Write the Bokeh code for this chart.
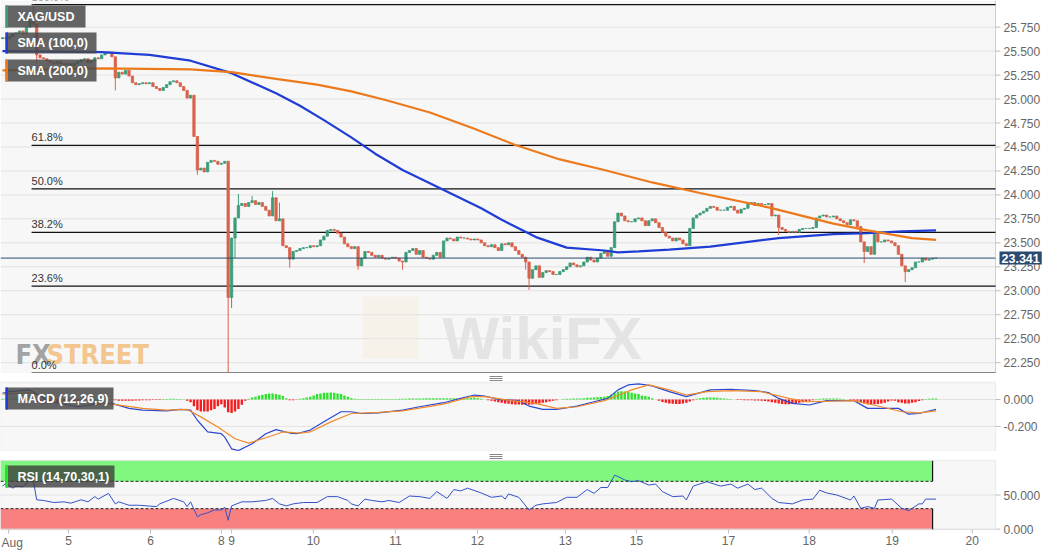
import numpy as np
from bokeh.plotting import figure
from bokeh.layouts import column
from bokeh.models import Range1d, Label, BoxAnnotation
from bokeh.embed import file_html
from bokeh.resources import INLINE

# ---------------- data (hourly XAG/USD) ----------------
first_open = 25.63
close = [
    25.64, 25.63, 25.65, 25.68, 25.69, 25.71, 25.68, 25.75, 25.82, 25.78,
    25.46, 25.43, 25.42, 25.40, 25.38, 25.37, 25.39, 25.37, 25.36, 25.37,
    25.35, 25.37, 25.39, 25.41, 25.42, 25.38, 25.40, 25.43, 25.42, 25.46,
    25.48, 25.49, 25.44, 25.22, 25.28, 25.26, 25.30, 25.24, 25.17, 25.15,
    25.16, 25.17, 25.16, 25.17, 25.13, 25.11, 25.09, 25.12, 25.15, 25.18,
    25.19, 25.17, 25.13, 25.09, 25.01, 25.04, 24.61, 24.26, 24.28, 24.24,
    24.34, 24.36, 24.35, 24.32, 24.33, 24.35, 22.93, 23.55, 23.76, 23.89,
    23.91, 23.88, 23.92, 23.94, 23.90, 23.92, 23.88, 23.84, 23.78, 23.97,
    23.73, 23.75, 23.47, 23.45, 23.33, 23.41, 23.42, 23.44, 23.45, 23.45,
    23.47, 23.46, 23.47, 23.53, 23.57, 23.63, 23.64, 23.63, 23.60, 23.56,
    23.49, 23.46, 23.44, 23.46, 23.26, 23.34, 23.41, 23.40, 23.37, 23.35,
    23.37, 23.34, 23.33, 23.34, 23.35, 23.34, 23.31, 23.30, 23.40, 23.42,
    23.44, 23.38, 23.42, 23.35, 23.34, 23.33, 23.37, 23.40, 23.35, 23.52,
    23.55, 23.54, 23.52, 23.56, 23.55, 23.55, 23.54, 23.53, 23.54, 23.53,
    23.50, 23.47, 23.46, 23.48, 23.45, 23.42, 23.49, 23.48, 23.50, 23.46,
    23.42, 23.38, 23.35, 23.30, 23.13, 23.22, 23.26, 23.14, 23.19, 23.21,
    23.20, 23.17, 23.17, 23.20, 23.22, 23.25, 23.29, 23.27, 23.25, 23.26,
    23.30, 23.35, 23.32, 23.30, 23.34, 23.39, 23.42, 23.36, 23.45, 23.72,
    23.81, 23.78, 23.73, 23.72, 23.72, 23.75, 23.76, 23.73, 23.68, 23.73,
    23.75, 23.71, 23.66, 23.61, 23.57, 23.55, 23.52, 23.55, 23.53, 23.49,
    23.47, 23.65, 23.76, 23.79, 23.81, 23.83, 23.86, 23.88, 23.87, 23.84,
    23.84, 23.84, 23.87, 23.88, 23.84, 23.81, 23.85, 23.86, 23.91, 23.92,
    23.89, 23.91, 23.90, 23.90, 23.91, 23.78, 23.79, 23.66, 23.64, 23.62,
    23.61, 23.62, 23.61, 23.64, 23.65, 23.65, 23.65, 23.66, 23.76, 23.78,
    23.79, 23.77, 23.77, 23.78, 23.75, 23.73, 23.71, 23.69, 23.74, 23.73,
    23.67, 23.51, 23.41, 23.46, 23.38, 23.59, 23.51, 23.51, 23.53, 23.52,
    23.50, 23.47, 23.38, 23.26, 23.20, 23.22, 23.24, 23.30, 23.30, 23.34,
    23.32, 23.33, 23.34, 23.341,
]
wick_high = {9: 25.99, 69: 24.01, 73: 23.99, 79: 24.04, 81: 23.92, 255: 23.63}
wick_low = {10: 25.38, 33: 25.09, 57: 24.21, 66: 22.14, 67: 22.82, 68: 23.34,
            84: 23.24, 104: 23.22, 117: 23.22, 153: 23.22, 154: 23.01,
            227: 23.58, 252: 23.29, 264: 23.09}
last_price = 23.341

sma100_idx = [0, 29, 43, 55, 67, 80, 87, 94, 102, 109, 117, 128, 140, 146, 156,
              165, 176, 180, 186, 195, 207, 227, 243, 253, 263, 273]
sma100 = [25.50, 25.49, 25.46, 25.40, 25.27, 25.06, 24.93, 24.78, 24.60, 24.43,
          24.26, 24.07, 23.86, 23.74, 23.56, 23.45, 23.42, 23.40, 23.41, 23.43,
          23.46, 23.55, 23.59, 23.60, 23.62, 23.63]
sma200_idx = [0, 29, 55, 67, 80, 92, 102, 112, 125, 138, 150, 163, 176, 190, 204,
              224, 243, 253, 266, 273]
sma200 = [25.30, 25.32, 25.31, 25.28, 25.21, 25.15, 25.08, 24.99, 24.86, 24.69,
          24.52, 24.37, 24.26, 24.13, 24.02, 23.87, 23.70, 23.63, 23.55, 23.53]

fib_high, fib_low = 25.986, 22.14
fib_ratios = [1.0, 0.618, 0.5, 0.382, 0.236, 0.0]
fib_labels = ["100.0%", "61.8%", "50.0%", "38.2%", "23.6%", "0.0%"]
fib_start = 8.5

macd_idx = [0, 2, 8, 14, 22, 29, 32, 37, 41, 48, 52, 55, 57, 60, 64, 65, 67, 69, 73, 77,
            80, 84, 86, 90, 94, 99, 102, 105, 110, 117, 122, 129, 134, 138, 141, 145, 151,
            154, 158, 162, 168, 173, 177, 180, 183, 186, 190, 195, 200, 207, 213, 220, 224,
            227, 231, 236, 241, 249, 253, 258, 262, 265, 268, 273]
macd = [0.046, 0.058, 0.071, -0.017, -0.054, -0.029, -0.029, -0.066, -0.079, -0.084,
        -0.074, -0.079, -0.154, -0.241, -0.254, -0.279, -0.366, -0.379, -0.329, -0.254,
        -0.224, -0.249, -0.254, -0.227, -0.166, -0.091, -0.091, -0.104, -0.099, -0.079,
        -0.054, -0.024, 0.008, 0.033, 0.026, 0.001, -0.009, -0.049, -0.074, -0.074,
        -0.049, -0.017, 0.008, 0.071, 0.108, 0.116, 0.101, 0.058, 0.021, 0.071,
        0.076, 0.066, 0.051, 0.008, -0.029, -0.041, -0.009, -0.009, -0.066, -0.066,
        -0.066, -0.109, -0.104, -0.074]
signal_idx = [0, 8, 17, 32, 41, 48, 54, 58, 63, 68, 72, 77, 82, 87, 90, 96, 102, 110, 117,
              129, 137, 141, 149, 156, 162, 168, 176, 181, 184, 189, 195, 200, 206, 213,
              222, 230, 235, 249, 257, 263, 268, 273]
signal = [0.040, 0.050, -0.010, -0.034, -0.066, -0.079, -0.074, -0.129, -0.204, -0.291,
          -0.324, -0.284, -0.241, -0.249, -0.241, -0.166, -0.104, -0.096, -0.084, -0.034,
          0.021, 0.021, -0.009, -0.029, -0.066, -0.054, -0.009, 0.041, 0.071, 0.108,
          0.071, 0.033, 0.058, 0.066, 0.058, 0.008, -0.017, -0.009, -0.054, -0.091,
          -0.099, -0.084]
hist = (
    [0.005, 0.005, 0.005, 0.01, 0.01, 0.01, 0.008, 0.005, 0.0, -0.01]
    + [-0.02, -0.025, -0.03, -0.03, -0.028, -0.025, -0.022, -0.02, -0.02, -0.018, -0.015]
    + [-0.012, -0.01, -0.006, -0.004, -0.002, 0.0, 0.003, 0.004, 0.005, 0.005, 0.004, 0.003]
    + [-0.005, -0.01, -0.01, -0.01, -0.01, -0.01, -0.008, -0.008, -0.006, -0.005, -0.005,
       -0.004, -0.003, -0.003]
    + [0.003, 0.004, 0.005, 0.005, 0.004, 0.003, 0.002]
    + [-0.01, -0.02, -0.05, -0.08, -0.09, -0.09, -0.09, -0.08, -0.07, -0.05, -0.035, -0.06,
       -0.095, -0.1, -0.09, -0.07, -0.04, -0.01]
    + [0.005, 0.015, 0.02, 0.03, 0.035, 0.04, 0.045, 0.045, 0.04, 0.035, 0.025, 0.01]
    + [-0.005, -0.005, -0.002]
    + [0.005, 0.01, 0.015, 0.02, 0.03, 0.04, 0.045, 0.05, 0.05, 0.052, 0.05, 0.045, 0.04,
       0.03, 0.02, 0.01, 0.005]
    + [0.003, 0.003, 0.003, 0.003, 0.003, 0.003, 0.003, 0.003, 0.003, 0.003, 0.003, 0.003]
    + [0.005, 0.006, 0.006, 0.007, 0.007, 0.008, 0.008, 0.008, 0.009, 0.009, 0.009, 0.01,
       0.01, 0.01, 0.01, 0.009, 0.009, 0.008, 0.008]
    + [0.008, 0.01, 0.012, 0.012, 0.01, 0.005]
    + [0.0, -0.005, -0.01, -0.015, -0.02, -0.025, -0.03, -0.032, -0.035, -0.037, -0.038,
       -0.04, -0.04, -0.04, -0.038, -0.035, -0.03, -0.025, -0.02, -0.015, -0.01, -0.005, 0.0]
    + [0.003, 0.005, 0.006, 0.007, 0.008, 0.008, 0.01, 0.012, 0.013, 0.015, 0.016, 0.018]
    + [0.02, 0.025, 0.035, 0.05, 0.06, 0.062, 0.06, 0.055, 0.05, 0.045, 0.04, 0.03, 0.025,
       0.02, 0.01]
    + [0.0, -0.01, -0.018, -0.025, -0.03, -0.032, -0.033, -0.033, -0.03, -0.025, -0.015, -0.005]
    + [0.005, 0.01, 0.012, 0.015, 0.015, 0.015, 0.013, 0.01, 0.008, 0.005, 0.003, 0.0]
    + [-0.003, -0.004, -0.005, -0.006, -0.006, -0.007, -0.008, -0.01]
    + [-0.012, -0.015, -0.02, -0.025, -0.03, -0.033, -0.035, -0.035, -0.033, -0.03, -0.025,
       -0.02, -0.015, -0.01, -0.005]
    + [0.003, 0.005, 0.007, 0.008, 0.008, 0.008, 0.007, 0.005, 0.003, 0.0, -0.003]
    + [-0.005, -0.01, -0.02, -0.03, -0.035, -0.038, -0.035, -0.033, -0.03, -0.025, -0.015,
       -0.008, -0.01, -0.02, -0.025, -0.03, -0.03, -0.025, -0.02, -0.012, -0.005, 0.003,
       0.006, 0.008, 0.008]
)

rsi_idx = [0, 1, 3, 4, 6, 7, 8, 9, 10, 12, 15, 18, 20, 23, 25, 27, 28, 31, 33, 34,
           37, 40, 45, 46, 50, 53, 54, 55, 57, 58, 60, 62, 64, 65, 66, 67, 70, 73, 77, 79,
           81, 83, 85, 88, 92, 95, 98, 101, 102, 104, 106, 108, 111, 113, 116, 119, 122,
           125, 127, 130, 132, 134, 136, 140, 143, 146, 147, 148, 151, 154, 156, 158, 162,
           165, 168, 171, 173, 175, 177, 179, 180, 182, 184, 186, 189, 191, 193, 196, 199,
           200, 202, 206, 210, 213, 215, 218, 220, 222, 225, 227, 231, 234, 237, 239, 241,
           244, 248, 249, 251, 253, 255, 256, 260, 263, 265, 268, 269, 270, 273]
rsi = [63, 67, 60, 63, 62, 67, 73, 72, 43, 42, 39, 40, 38, 43, 40, 47.6, 44, 52.4, 37, 40,
       35, 35, 33, 37, 45, 40, 33, 40, 18, 21, 24, 28, 28, 32, 13, 34, 40, 40, 42, 45,
       37, 34, 37, 39, 39, 47.6, 47.6, 42, 37, 34, 44, 42, 40, 42, 39, 48.5, 47.6, 45, 55,
       45, 58, 56, 60, 53, 46.6, 48.5, 44, 51.5, 46.6, 28, 35, 37, 39, 46.6, 46.6, 58,
       52.4, 61, 61, 79, 77, 72, 69.5, 71, 64.6, 66, 55, 47.6, 48.5, 42.7, 63, 69.5, 63,
       66, 60, 66, 58, 60, 45, 39, 37, 42.7, 44, 57, 53, 50, 42.7, 48.5, 30.5, 33, 30.5,
       42.7, 44, 30.5, 27, 37, 37, 44, 44]
rsi_upper, rsi_lower = 70, 30
rsi_band_end = 272

xtick_pos = [1.8, 19.3, 43.3, 64.0, 67.0, 90.9, 114.9, 138.9, 164.6, 185.4, 212.3,
             235.9, 260.2, 283.6]
xtick_labels = ["Aug", "5", "6", "8", "9", "10", "11", "12", "13", "15", "17", "18",
                "19", "20"]
price_ticks = [22.25, 22.5, 22.75, 23.0, 23.25, 23.5, 23.75, 24.0, 24.25, 24.5, 24.75,
               25.0, 25.25, 25.5, 25.75]
macd_ticks = [-0.2, 0.0]
rsi_ticks = [0, 50]

# ---------------- styling ----------------
FONT = "Liberation Sans"
COND = "DejaVu Sans Condensed, Roboto Condensed, Roboto, sans-serif"
UP, DOWN = "#3c9c78", "#d9624b"
BLUE, ORANGE = "#1f3dd4", "#ec7a1c"
NAVY = "#2b4a70"
FRAME_W = 995          # px of the plotting area (the price scale strip sits to its right)
FIG_W = 1052
X0, X1 = -0.58, 290.4  # x extent of the plotting area (candle index units)
PX = (X1 - X0) / FRAME_W
XM = X0 + FIG_W * PX   # every panel's frame also covers the price-scale strip

P_TOP, P_BOT = 26.028, 22.137          # main panel (373 px)
M_TOP, M_BOT = 0.126, -0.386           # MACD panel (69 px)
R_TOP, R_BOT = 100.5, -0.5             # RSI panel (69 px)
MV = (M_TOP - M_BOT) / 69.0            # MACD units per px
RV = (R_TOP - R_BOT) / 69.0            # RSI units per px
GAP = 9                                # px between panels
AXIS_H = 22                            # px for the date labels


def mx(px):
    return X0 + px * PX


def my(py):
    return P_TOP - py * (P_TOP - P_BOT) / 373.0


def mv(py):
    return M_TOP - (py - 382.0) * MV


def rv(py):
    return R_TOP - (py - 460.0) * RV


def make_panel(height, y0, y1, bg_bottom=None, bg_top=None):
    f = figure(width=FIG_W, height=height, x_range=Range1d(X0, XM),
               y_range=Range1d(y0, y1), output_backend="svg", toolbar_location=None,
               x_axis_location=None, y_axis_location=None, min_border=0,
               background_fill_color="white", border_fill_color="white",
               outline_line_color=None)
    for g in f.grid:
        g.visible = False
    f.add_layout(BoxAnnotation(right=X1, bottom=bg_bottom, top=bg_top,
                               fill_color="#f7f7f7", fill_alpha=1, line_color=None,
                               level="underlay"))
    return f


def price_scale(f, ticks, y0, y1, labels, grid=True, outline=False):
    if grid:
        f.segment(x0=X0, x1=X1, y0=ticks, y1=ticks, line_color="#e2e2e2", line_width=1)
    if outline:
        f.add_layout(BoxAnnotation(left=X0, right=X1, top=y1, bottom=y0, fill_alpha=0,
                                   line_color="#d2d2d2", line_width=1.3))
    else:
        f.segment(x0=[X1], x1=[X1], y0=[y0], y1=[y1], line_color="#cfcfcf", line_width=1)
    f.segment(x0=X1, x1=X1 + 5 * PX, y0=ticks, y1=ticks, line_color="#bdbdbd",
              line_width=1)
    for t, lab in zip(ticks, labels):
        f.add_layout(Label(x=X1, x_offset=8, y=t, text=lab, text_baseline="middle",
                           text_color="#666666", text_font=FONT, text_font_size="12px"))


def legend_box(f, x0, x1, top, bottom, ymid, bar_color, text, bg="#4a4a4a", alpha=0.85):
    f.add_layout(BoxAnnotation(left=mx(x0), right=mx(x1), top=top, bottom=bottom,
                               fill_color=bg, fill_alpha=alpha, line_color=None))
    f.add_layout(BoxAnnotation(left=mx(x0), right=mx(x0 + 2.5), top=top, bottom=bottom,
                               fill_color=bar_color, fill_alpha=1, line_color=None))
    f.add_layout(Label(x=mx(x0 + 12), y=ymid, text=text, text_baseline="middle",
                       text_color="white", text_font=FONT, text_font_size="12.5px",
                       text_font_style="bold"))


def grip(f, y_top, per_px):
    # small "drag handle" drawn in the gap above a sub-panel
    for k in (6, 4, 2):
        f.add_layout(BoxAnnotation(left=mx(489), right=mx(502),
                                   top=y_top + (k + 0.5) * per_px,
                                   bottom=y_top + (k - 0.5) * per_px,
                                   fill_color="#8a8a8a", fill_alpha=1, line_color=None))


# ---------------- main price panel ----------------
n = len(close)
idx = np.arange(n)
closes = np.array(close, dtype=float)
opens = np.array([first_open] + close[:-1], dtype=float)
highs = np.maximum(opens, closes)
lows = np.minimum(opens, closes)
for k, v in wick_high.items():
    highs[k] = max(highs[k], v)
for k, v in wick_low.items():
    lows[k] = min(lows[k], v)
colors = [UP if c >= o else DOWN for o, c in zip(opens, closes)]

p = make_panel(373, P_BOT, P_TOP)
price_scale(p, price_ticks, P_BOT, P_TOP, [f"{t:.3f}" for t in price_ticks])

# watermarks
p.add_layout(BoxAnnotation(left=mx(362), right=mx(418), top=my(296), bottom=my(358),
                           fill_color="#f6ebd6", fill_alpha=0.45, line_color=None,
                           level="underlay"))
p.add_layout(Label(x=mx(442), y=my(338), text="WikiFX", text_color="#dcdcdc",
                   text_alpha=0.7, text_font=FONT, text_font_size="60px",
                   text_font_style="bold", text_baseline="alphabetic", level="underlay"))
p.add_layout(Label(x=mx(15), y=my(354), text="FX", text_color="#a3a3a3",
                   text_font=COND, text_font_size="27px", text_font_style="bold",
                   text_baseline="alphabetic"))
p.add_layout(Label(x=mx(46), y=my(354), text="STREET", text_color="#f3c68f",
                   text_font=COND, text_font_size="27px", text_font_style="bold",
                   text_baseline="alphabetic"))

# fibonacci levels
fib_prices = [fib_low + r * (fib_high - fib_low) for r in fib_ratios]
p.segment(x0=fib_start, x1=X1, y0=fib_prices, y1=fib_prices, line_color="#111111",
          line_width=1.2)
for lvl, lab in zip(fib_prices, fib_labels):
    p.add_layout(Label(x=fib_start, y=lvl, y_offset=2, text=lab, text_baseline="bottom",
                       text_color="#333333", text_font=FONT, text_font_size="11px"))

# candles
p.segment(x0=idx, x1=idx, y0=lows, y1=highs, line_color=colors, line_width=1)
p.vbar(x=idx, width=0.68, top=np.maximum(opens, closes), bottom=np.minimum(opens, closes),
       fill_color=colors, line_color=colors, line_width=0.8)

# moving averages
p.line(sma100_idx, sma100, line_color=BLUE, line_width=2.2)
p.line(sma200_idx, sma200, line_color=ORANGE, line_width=2.2)

# current price line and tag
p.segment(x0=[X0], x1=[X1], y0=[last_price], y1=[last_price], line_color=NAVY,
          line_width=1)
p.add_layout(Label(x=X1, x_offset=4, y=last_price, text=f"{last_price:.3f}",
                   text_baseline="middle", text_color="white", text_font=FONT,
                   text_font_size="12.5px", text_font_style="bold",
                   background_fill_color=NAVY, padding=2))

legend_box(p, 5, 85, my(5), my(27), my(16), UP, "XAG/USD")
legend_box(p, 5, 96, my(32), my(53), my(42.5), BLUE, "SMA (100,0)")
legend_box(p, 5, 96, my(59), my(81), my(70), ORANGE, "SMA (200,0)")

# ---------------- MACD panel ----------------
m = make_panel(69 + GAP, M_BOT, M_TOP + GAP * MV, bg_bottom=M_BOT, bg_top=M_TOP)
price_scale(m, macd_ticks, M_BOT, M_TOP, [f"{t:.3f}" for t in macd_ticks], outline=True)
hn = min(len(hist), n)
hcol = ["#2fe22f" if h >= 0 else "#f41c1c" for h in hist[:hn]]
m.vbar(x=idx[:hn], width=0.7, top=hist[:hn], bottom=0, fill_color=hcol, line_color=None)
m.line(macd_idx, macd, line_color="#2a48d0", line_width=1.2)
m.line(signal_idx, signal, line_color="#f08a2c", line_width=1.2)
legend_box(m, 5, 113, mv(387), mv(409), mv(398), BLUE, "MACD (12,26,9)")
grip(m, M_TOP, MV)

# ---------------- RSI panel (with the date scale below it) ----------------
r = make_panel(69 + GAP + AXIS_H, R_BOT - AXIS_H * RV, R_TOP + GAP * RV,
               bg_bottom=R_BOT, bg_top=R_TOP)
r.add_layout(BoxAnnotation(right=rsi_band_end, bottom=rsi_upper, top=100,
                           fill_color="#80f880", fill_alpha=1, line_color=None,
                           level="underlay"))
r.add_layout(BoxAnnotation(right=rsi_band_end, bottom=R_BOT, top=rsi_lower,
                           fill_color="#f88080", fill_alpha=1, line_color=None,
                           level="underlay"))
price_scale(r, rsi_ticks, R_BOT, R_TOP, [f"{t:.3f}" for t in rsi_ticks], outline=True)
r.segment(x0=X0, x1=rsi_band_end, y0=[rsi_upper, rsi_lower], y1=[rsi_upper, rsi_lower],
          line_color="#222222", line_width=1, line_dash="3 2")
r.segment(x0=rsi_band_end, x1=rsi_band_end, y0=[rsi_upper, R_BOT], y1=[100, rsi_lower],
          line_color="#111111", line_width=1.2)
r.line(rsi_idx, rsi, line_color="#3352c8", line_width=1)
legend_box(r, 5, 114, rv(465), rv(487), rv(476), "#22e622", "RSI (14,70,30,1)",
           bg="#3a3a3a", alpha=0.78)
grip(r, R_TOP, RV)

# date scale
r.segment(x0=xtick_pos, x1=xtick_pos, y0=R_BOT, y1=R_BOT - 4 * RV,
          line_color="#bdbdbd", line_width=1)
for i, (pos, lab) in enumerate(zip(xtick_pos, xtick_labels)):
    first = i == 0
    r.add_layout(Label(x=X0 if first else pos, x_offset=1 if first else 0, y=R_BOT,
                       y_offset=-6, text=lab, text_align="left" if first else "center",
                       text_baseline="top", text_color="#666666", text_font=FONT,
                       text_font_size="12px"))

layout = column(p, m, r)
open("out.html", "w").write(file_html(layout, INLINE))
